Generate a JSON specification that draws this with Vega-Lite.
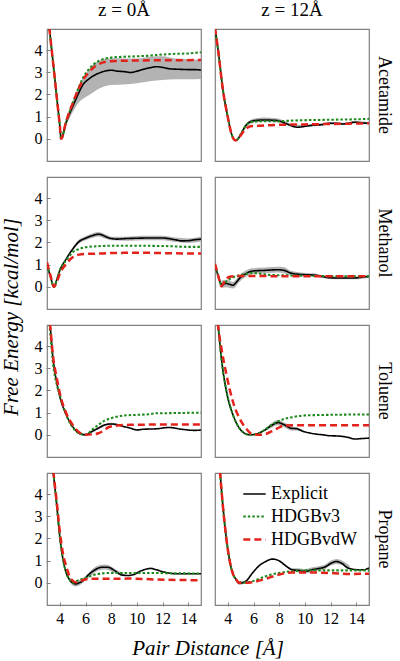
{
"$schema": "https://vega.github.io/schema/vega-lite/v6.json",
"background": "white",
"padding": {"left": 0, "top": 1, "right": 0, "bottom": 4},
"datasets": {
"pts": [
{"m":"Acetamide","z":"z = 0Å","s":"Explicit","x":3.0,"y":6.0},{"m":"Acetamide","z":"z = 0Å","s":"Explicit","x":3.2,"y":4.9},{"m":"Acetamide","z":"z = 0Å","s":"Explicit","x":3.5,"y":3.3},{"m":"Acetamide","z":"z = 0Å","s":"Explicit","x":3.8,"y":1.66},{"m":"Acetamide","z":"z = 0Å","s":"Explicit","x":4.0,"y":0.58},{"m":"Acetamide","z":"z = 0Å","s":"Explicit","x":4.1,"y":0.0},{"m":"Acetamide","z":"z = 0Å","s":"Explicit","x":4.5,"y":0.75},{"m":"Acetamide","z":"z = 0Å","s":"Explicit","x":5.0,"y":1.45},{"m":"Acetamide","z":"z = 0Å","s":"Explicit","x":5.5,"y":2.1},{"m":"Acetamide","z":"z = 0Å","s":"Explicit","x":5.75,"y":2.39},{"m":"Acetamide","z":"z = 0Å","s":"Explicit","x":6.25,"y":2.69},{"m":"Acetamide","z":"z = 0Å","s":"Explicit","x":7.0,"y":2.95},{"m":"Acetamide","z":"z = 0Å","s":"Explicit","x":7.5,"y":3.05},{"m":"Acetamide","z":"z = 0Å","s":"Explicit","x":8.0,"y":3.09},{"m":"Acetamide","z":"z = 0Å","s":"Explicit","x":8.5,"y":3.05},{"m":"Acetamide","z":"z = 0Å","s":"Explicit","x":9.0,"y":3.03},{"m":"Acetamide","z":"z = 0Å","s":"Explicit","x":9.5,"y":2.99},{"m":"Acetamide","z":"z = 0Å","s":"Explicit","x":10.0,"y":3.05},{"m":"Acetamide","z":"z = 0Å","s":"Explicit","x":10.5,"y":3.13},{"m":"Acetamide","z":"z = 0Å","s":"Explicit","x":11.0,"y":3.2},{"m":"Acetamide","z":"z = 0Å","s":"Explicit","x":11.5,"y":3.25},{"m":"Acetamide","z":"z = 0Å","s":"Explicit","x":12.0,"y":3.22},{"m":"Acetamide","z":"z = 0Å","s":"Explicit","x":12.5,"y":3.16},{"m":"Acetamide","z":"z = 0Å","s":"Explicit","x":13.0,"y":3.14},{"m":"Acetamide","z":"z = 0Å","s":"Explicit","x":13.5,"y":3.13},{"m":"Acetamide","z":"z = 0Å","s":"Explicit","x":14.0,"y":3.12},{"m":"Acetamide","z":"z = 0Å","s":"Explicit","x":14.5,"y":3.12},{"m":"Acetamide","z":"z = 0Å","s":"Explicit","x":15.0,"y":3.1},
{"m":"Acetamide","z":"z = 0Å","s":"HDGBv3","x":3.0,"y":6.0},{"m":"Acetamide","z":"z = 0Å","s":"HDGBv3","x":3.2,"y":4.9},{"m":"Acetamide","z":"z = 0Å","s":"HDGBv3","x":3.5,"y":3.3},{"m":"Acetamide","z":"z = 0Å","s":"HDGBv3","x":3.8,"y":1.66},{"m":"Acetamide","z":"z = 0Å","s":"HDGBv3","x":4.0,"y":0.58},{"m":"Acetamide","z":"z = 0Å","s":"HDGBv3","x":4.1,"y":0.0},{"m":"Acetamide","z":"z = 0Å","s":"HDGBv3","x":4.5,"y":0.8},{"m":"Acetamide","z":"z = 0Å","s":"HDGBv3","x":5.0,"y":1.6},{"m":"Acetamide","z":"z = 0Å","s":"HDGBv3","x":5.5,"y":2.35},{"m":"Acetamide","z":"z = 0Å","s":"HDGBv3","x":5.75,"y":2.69},{"m":"Acetamide","z":"z = 0Å","s":"HDGBv3","x":6.25,"y":3.13},{"m":"Acetamide","z":"z = 0Å","s":"HDGBv3","x":7.0,"y":3.5},{"m":"Acetamide","z":"z = 0Å","s":"HDGBv3","x":8.0,"y":3.66},{"m":"Acetamide","z":"z = 0Å","s":"HDGBv3","x":9.0,"y":3.7},{"m":"Acetamide","z":"z = 0Å","s":"HDGBv3","x":10.0,"y":3.72},{"m":"Acetamide","z":"z = 0Å","s":"HDGBv3","x":11.0,"y":3.75},{"m":"Acetamide","z":"z = 0Å","s":"HDGBv3","x":12.0,"y":3.8},{"m":"Acetamide","z":"z = 0Å","s":"HDGBv3","x":13.0,"y":3.83},{"m":"Acetamide","z":"z = 0Å","s":"HDGBv3","x":14.0,"y":3.85},{"m":"Acetamide","z":"z = 0Å","s":"HDGBv3","x":15.0,"y":3.9},
{"m":"Acetamide","z":"z = 0Å","s":"HDGBvdW","x":3.0,"y":6.0},{"m":"Acetamide","z":"z = 0Å","s":"HDGBvdW","x":3.2,"y":4.9},{"m":"Acetamide","z":"z = 0Å","s":"HDGBvdW","x":3.5,"y":3.3},{"m":"Acetamide","z":"z = 0Å","s":"HDGBvdW","x":3.8,"y":1.66},{"m":"Acetamide","z":"z = 0Å","s":"HDGBvdW","x":4.0,"y":0.58},{"m":"Acetamide","z":"z = 0Å","s":"HDGBvdW","x":4.1,"y":0.0},{"m":"Acetamide","z":"z = 0Å","s":"HDGBvdW","x":4.5,"y":0.8},{"m":"Acetamide","z":"z = 0Å","s":"HDGBvdW","x":5.0,"y":1.6},{"m":"Acetamide","z":"z = 0Å","s":"HDGBvdW","x":5.5,"y":2.3},{"m":"Acetamide","z":"z = 0Å","s":"HDGBvdW","x":5.75,"y":2.6},{"m":"Acetamide","z":"z = 0Å","s":"HDGBvdW","x":6.25,"y":2.99},{"m":"Acetamide","z":"z = 0Å","s":"HDGBvdW","x":7.0,"y":3.36},{"m":"Acetamide","z":"z = 0Å","s":"HDGBvdW","x":8.0,"y":3.5},{"m":"Acetamide","z":"z = 0Å","s":"HDGBvdW","x":9.0,"y":3.52},{"m":"Acetamide","z":"z = 0Å","s":"HDGBvdW","x":10.0,"y":3.53},{"m":"Acetamide","z":"z = 0Å","s":"HDGBvdW","x":12.0,"y":3.54},{"m":"Acetamide","z":"z = 0Å","s":"HDGBvdW","x":15.0,"y":3.55},
{"m":"Acetamide","z":"z = 0Å","s":"band","x":4.1,"lo":0.0,"hi":0.0},{"m":"Acetamide","z":"z = 0Å","s":"band","x":4.5,"lo":0.6,"hi":0.9},{"m":"Acetamide","z":"z = 0Å","s":"band","x":5.0,"lo":1.2,"hi":1.7},{"m":"Acetamide","z":"z = 0Å","s":"band","x":5.5,"lo":1.65,"hi":2.45},{"m":"Acetamide","z":"z = 0Å","s":"band","x":6.0,"lo":1.87,"hi":2.9},{"m":"Acetamide","z":"z = 0Å","s":"band","x":6.5,"lo":2.05,"hi":3.3},{"m":"Acetamide","z":"z = 0Å","s":"band","x":7.0,"lo":2.24,"hi":3.5},{"m":"Acetamide","z":"z = 0Å","s":"band","x":8.0,"lo":2.43,"hi":3.63},{"m":"Acetamide","z":"z = 0Å","s":"band","x":9.0,"lo":2.45,"hi":3.62},{"m":"Acetamide","z":"z = 0Å","s":"band","x":10.0,"lo":2.5,"hi":3.62},{"m":"Acetamide","z":"z = 0Å","s":"band","x":11.0,"lo":2.6,"hi":3.7},{"m":"Acetamide","z":"z = 0Å","s":"band","x":12.0,"lo":2.65,"hi":3.72},{"m":"Acetamide","z":"z = 0Å","s":"band","x":13.0,"lo":2.68,"hi":3.62},{"m":"Acetamide","z":"z = 0Å","s":"band","x":14.0,"lo":2.68,"hi":3.6},{"m":"Acetamide","z":"z = 0Å","s":"band","x":15.0,"lo":2.7,"hi":3.55},

{"m":"Acetamide","z":"z = 12Å","s":"Explicit","x":3.0,"y":5.0},{"m":"Acetamide","z":"z = 12Å","s":"Explicit","x":3.25,"y":3.96},{"m":"Acetamide","z":"z = 12Å","s":"Explicit","x":3.63,"y":2.16},{"m":"Acetamide","z":"z = 12Å","s":"Explicit","x":4.0,"y":0.97},{"m":"Acetamide","z":"z = 12Å","s":"Explicit","x":4.25,"y":0.3},{"m":"Acetamide","z":"z = 12Å","s":"Explicit","x":4.45,"y":0.0},{"m":"Acetamide","z":"z = 12Å","s":"Explicit","x":4.6,"y":-0.07},{"m":"Acetamide","z":"z = 12Å","s":"Explicit","x":4.8,"y":0.0},{"m":"Acetamide","z":"z = 12Å","s":"Explicit","x":5.0,"y":0.2},{"m":"Acetamide","z":"z = 12Å","s":"Explicit","x":5.4,"y":0.6},{"m":"Acetamide","z":"z = 12Å","s":"Explicit","x":5.9,"y":0.8},{"m":"Acetamide","z":"z = 12Å","s":"Explicit","x":6.4,"y":0.84},{"m":"Acetamide","z":"z = 12Å","s":"Explicit","x":6.9,"y":0.85},{"m":"Acetamide","z":"z = 12Å","s":"Explicit","x":7.4,"y":0.84},{"m":"Acetamide","z":"z = 12Å","s":"Explicit","x":7.9,"y":0.82},{"m":"Acetamide","z":"z = 12Å","s":"Explicit","x":8.4,"y":0.72},{"m":"Acetamide","z":"z = 12Å","s":"Explicit","x":8.9,"y":0.6},{"m":"Acetamide","z":"z = 12Å","s":"Explicit","x":9.4,"y":0.52},{"m":"Acetamide","z":"z = 12Å","s":"Explicit","x":9.9,"y":0.55},{"m":"Acetamide","z":"z = 12Å","s":"Explicit","x":10.4,"y":0.6},{"m":"Acetamide","z":"z = 12Å","s":"Explicit","x":10.9,"y":0.62},{"m":"Acetamide","z":"z = 12Å","s":"Explicit","x":11.4,"y":0.64},{"m":"Acetamide","z":"z = 12Å","s":"Explicit","x":11.9,"y":0.7},{"m":"Acetamide","z":"z = 12Å","s":"Explicit","x":12.4,"y":0.7},{"m":"Acetamide","z":"z = 12Å","s":"Explicit","x":12.9,"y":0.67},{"m":"Acetamide","z":"z = 12Å","s":"Explicit","x":13.4,"y":0.7},{"m":"Acetamide","z":"z = 12Å","s":"Explicit","x":13.9,"y":0.75},{"m":"Acetamide","z":"z = 12Å","s":"Explicit","x":14.4,"y":0.72},{"m":"Acetamide","z":"z = 12Å","s":"Explicit","x":15.0,"y":0.7},
{"m":"Acetamide","z":"z = 12Å","s":"HDGBv3","x":3.0,"y":5.0},{"m":"Acetamide","z":"z = 12Å","s":"HDGBv3","x":3.25,"y":3.96},{"m":"Acetamide","z":"z = 12Å","s":"HDGBv3","x":3.63,"y":2.16},{"m":"Acetamide","z":"z = 12Å","s":"HDGBv3","x":4.0,"y":0.97},{"m":"Acetamide","z":"z = 12Å","s":"HDGBv3","x":4.25,"y":0.3},{"m":"Acetamide","z":"z = 12Å","s":"HDGBv3","x":4.45,"y":0.0},{"m":"Acetamide","z":"z = 12Å","s":"HDGBv3","x":4.6,"y":-0.07},{"m":"Acetamide","z":"z = 12Å","s":"HDGBv3","x":4.8,"y":0.0},{"m":"Acetamide","z":"z = 12Å","s":"HDGBv3","x":5.0,"y":0.2},{"m":"Acetamide","z":"z = 12Å","s":"HDGBv3","x":5.4,"y":0.6},{"m":"Acetamide","z":"z = 12Å","s":"HDGBv3","x":5.9,"y":0.77},{"m":"Acetamide","z":"z = 12Å","s":"HDGBv3","x":6.9,"y":0.79},{"m":"Acetamide","z":"z = 12Å","s":"HDGBv3","x":7.9,"y":0.79},{"m":"Acetamide","z":"z = 12Å","s":"HDGBv3","x":8.9,"y":0.82},{"m":"Acetamide","z":"z = 12Å","s":"HDGBv3","x":10.0,"y":0.84},{"m":"Acetamide","z":"z = 12Å","s":"HDGBv3","x":11.0,"y":0.85},{"m":"Acetamide","z":"z = 12Å","s":"HDGBv3","x":12.0,"y":0.86},{"m":"Acetamide","z":"z = 12Å","s":"HDGBv3","x":13.0,"y":0.87},{"m":"Acetamide","z":"z = 12Å","s":"HDGBv3","x":14.0,"y":0.88},{"m":"Acetamide","z":"z = 12Å","s":"HDGBv3","x":15.0,"y":0.9},
{"m":"Acetamide","z":"z = 12Å","s":"HDGBvdW","x":3.0,"y":5.0},{"m":"Acetamide","z":"z = 12Å","s":"HDGBvdW","x":3.25,"y":3.96},{"m":"Acetamide","z":"z = 12Å","s":"HDGBvdW","x":3.63,"y":2.16},{"m":"Acetamide","z":"z = 12Å","s":"HDGBvdW","x":4.0,"y":0.97},{"m":"Acetamide","z":"z = 12Å","s":"HDGBvdW","x":4.25,"y":0.3},{"m":"Acetamide","z":"z = 12Å","s":"HDGBvdW","x":4.45,"y":0.0},{"m":"Acetamide","z":"z = 12Å","s":"HDGBvdW","x":4.6,"y":-0.07},{"m":"Acetamide","z":"z = 12Å","s":"HDGBvdW","x":4.8,"y":-0.02},{"m":"Acetamide","z":"z = 12Å","s":"HDGBvdW","x":5.0,"y":0.15},{"m":"Acetamide","z":"z = 12Å","s":"HDGBvdW","x":5.4,"y":0.45},{"m":"Acetamide","z":"z = 12Å","s":"HDGBvdW","x":5.9,"y":0.58},{"m":"Acetamide","z":"z = 12Å","s":"HDGBvdW","x":6.9,"y":0.6},{"m":"Acetamide","z":"z = 12Å","s":"HDGBvdW","x":7.9,"y":0.63},{"m":"Acetamide","z":"z = 12Å","s":"HDGBvdW","x":8.9,"y":0.64},{"m":"Acetamide","z":"z = 12Å","s":"HDGBvdW","x":10.0,"y":0.65},{"m":"Acetamide","z":"z = 12Å","s":"HDGBvdW","x":11.0,"y":0.66},{"m":"Acetamide","z":"z = 12Å","s":"HDGBvdW","x":12.0,"y":0.67},{"m":"Acetamide","z":"z = 12Å","s":"HDGBvdW","x":13.0,"y":0.68},{"m":"Acetamide","z":"z = 12Å","s":"HDGBvdW","x":14.0,"y":0.69},{"m":"Acetamide","z":"z = 12Å","s":"HDGBvdW","x":15.0,"y":0.7},
{"m":"Acetamide","z":"z = 12Å","s":"band","x":4.6,"lo":-0.09,"hi":-0.05},{"m":"Acetamide","z":"z = 12Å","s":"band","x":5.0,"lo":0.15,"hi":0.25},{"m":"Acetamide","z":"z = 12Å","s":"band","x":5.5,"lo":0.55,"hi":0.72},{"m":"Acetamide","z":"z = 12Å","s":"band","x":6.0,"lo":0.72,"hi":0.9},{"m":"Acetamide","z":"z = 12Å","s":"band","x":6.5,"lo":0.76,"hi":0.95},{"m":"Acetamide","z":"z = 12Å","s":"band","x":7.0,"lo":0.77,"hi":0.96},{"m":"Acetamide","z":"z = 12Å","s":"band","x":7.5,"lo":0.76,"hi":0.94},{"m":"Acetamide","z":"z = 12Å","s":"band","x":8.0,"lo":0.74,"hi":0.9},{"m":"Acetamide","z":"z = 12Å","s":"band","x":8.5,"lo":0.65,"hi":0.78},{"m":"Acetamide","z":"z = 12Å","s":"band","x":9.0,"lo":0.55,"hi":0.66},{"m":"Acetamide","z":"z = 12Å","s":"band","x":10.0,"lo":0.53,"hi":0.63},{"m":"Acetamide","z":"z = 12Å","s":"band","x":11.0,"lo":0.58,"hi":0.68},{"m":"Acetamide","z":"z = 12Å","s":"band","x":12.0,"lo":0.65,"hi":0.75},{"m":"Acetamide","z":"z = 12Å","s":"band","x":13.0,"lo":0.62,"hi":0.72},{"m":"Acetamide","z":"z = 12Å","s":"band","x":14.0,"lo":0.7,"hi":0.8},{"m":"Acetamide","z":"z = 12Å","s":"band","x":15.0,"lo":0.66,"hi":0.74},

{"m":"Methanol","z":"z = 0Å","s":"Explicit","x":3.0,"y":1.0},{"m":"Methanol","z":"z = 0Å","s":"Explicit","x":3.25,"y":0.5},{"m":"Methanol","z":"z = 0Å","s":"Explicit","x":3.55,"y":0.0},{"m":"Methanol","z":"z = 0Å","s":"Explicit","x":3.75,"y":0.3},{"m":"Methanol","z":"z = 0Å","s":"Explicit","x":4.0,"y":0.74},{"m":"Methanol","z":"z = 0Å","s":"Explicit","x":4.5,"y":1.26},{"m":"Methanol","z":"z = 0Å","s":"Explicit","x":5.0,"y":1.7},{"m":"Methanol","z":"z = 0Å","s":"Explicit","x":5.5,"y":2.04},{"m":"Methanol","z":"z = 0Å","s":"Explicit","x":6.0,"y":2.19},{"m":"Methanol","z":"z = 0Å","s":"Explicit","x":6.5,"y":2.3},{"m":"Methanol","z":"z = 0Å","s":"Explicit","x":7.0,"y":2.37},{"m":"Methanol","z":"z = 0Å","s":"Explicit","x":7.25,"y":2.35},{"m":"Methanol","z":"z = 0Å","s":"Explicit","x":7.5,"y":2.28},{"m":"Methanol","z":"z = 0Å","s":"Explicit","x":8.0,"y":2.18},{"m":"Methanol","z":"z = 0Å","s":"Explicit","x":8.5,"y":2.15},{"m":"Methanol","z":"z = 0Å","s":"Explicit","x":9.0,"y":2.17},{"m":"Methanol","z":"z = 0Å","s":"Explicit","x":10.0,"y":2.19},{"m":"Methanol","z":"z = 0Å","s":"Explicit","x":11.0,"y":2.2},{"m":"Methanol","z":"z = 0Å","s":"Explicit","x":12.0,"y":2.2},{"m":"Methanol","z":"z = 0Å","s":"Explicit","x":13.0,"y":2.12},{"m":"Methanol","z":"z = 0Å","s":"Explicit","x":13.5,"y":2.07},{"m":"Methanol","z":"z = 0Å","s":"Explicit","x":14.0,"y":2.08},{"m":"Methanol","z":"z = 0Å","s":"Explicit","x":14.5,"y":2.12},{"m":"Methanol","z":"z = 0Å","s":"Explicit","x":15.0,"y":2.15},
{"m":"Methanol","z":"z = 0Å","s":"HDGBv3","x":3.0,"y":1.0},{"m":"Methanol","z":"z = 0Å","s":"HDGBv3","x":3.25,"y":0.5},{"m":"Methanol","z":"z = 0Å","s":"HDGBv3","x":3.55,"y":0.0},{"m":"Methanol","z":"z = 0Å","s":"HDGBv3","x":3.75,"y":0.3},{"m":"Methanol","z":"z = 0Å","s":"HDGBv3","x":4.0,"y":0.74},{"m":"Methanol","z":"z = 0Å","s":"HDGBv3","x":4.5,"y":1.2},{"m":"Methanol","z":"z = 0Å","s":"HDGBv3","x":5.0,"y":1.56},{"m":"Methanol","z":"z = 0Å","s":"HDGBv3","x":5.5,"y":1.7},{"m":"Methanol","z":"z = 0Å","s":"HDGBv3","x":6.0,"y":1.78},{"m":"Methanol","z":"z = 0Å","s":"HDGBv3","x":7.0,"y":1.83},{"m":"Methanol","z":"z = 0Å","s":"HDGBv3","x":8.0,"y":1.85},{"m":"Methanol","z":"z = 0Å","s":"HDGBv3","x":10.0,"y":1.85},{"m":"Methanol","z":"z = 0Å","s":"HDGBv3","x":12.0,"y":1.84},{"m":"Methanol","z":"z = 0Å","s":"HDGBv3","x":13.0,"y":1.82},{"m":"Methanol","z":"z = 0Å","s":"HDGBv3","x":14.0,"y":1.8},{"m":"Methanol","z":"z = 0Å","s":"HDGBv3","x":15.0,"y":1.8},
{"m":"Methanol","z":"z = 0Å","s":"HDGBvdW","x":3.0,"y":1.1},{"m":"Methanol","z":"z = 0Å","s":"HDGBvdW","x":3.25,"y":0.55},{"m":"Methanol","z":"z = 0Å","s":"HDGBvdW","x":3.55,"y":0.0},{"m":"Methanol","z":"z = 0Å","s":"HDGBvdW","x":3.75,"y":0.2},{"m":"Methanol","z":"z = 0Å","s":"HDGBvdW","x":4.0,"y":0.59},{"m":"Methanol","z":"z = 0Å","s":"HDGBvdW","x":4.5,"y":1.04},{"m":"Methanol","z":"z = 0Å","s":"HDGBvdW","x":5.0,"y":1.33},{"m":"Methanol","z":"z = 0Å","s":"HDGBvdW","x":5.5,"y":1.45},{"m":"Methanol","z":"z = 0Å","s":"HDGBvdW","x":6.0,"y":1.48},{"m":"Methanol","z":"z = 0Å","s":"HDGBvdW","x":7.0,"y":1.5},{"m":"Methanol","z":"z = 0Å","s":"HDGBvdW","x":8.0,"y":1.52},{"m":"Methanol","z":"z = 0Å","s":"HDGBvdW","x":9.0,"y":1.53},{"m":"Methanol","z":"z = 0Å","s":"HDGBvdW","x":11.0,"y":1.53},{"m":"Methanol","z":"z = 0Å","s":"HDGBvdW","x":12.0,"y":1.52},{"m":"Methanol","z":"z = 0Å","s":"HDGBvdW","x":13.0,"y":1.51},{"m":"Methanol","z":"z = 0Å","s":"HDGBvdW","x":15.0,"y":1.5},
{"m":"Methanol","z":"z = 0Å","s":"band","x":5.0,"lo":1.62,"hi":1.78},{"m":"Methanol","z":"z = 0Å","s":"band","x":5.5,"lo":1.95,"hi":2.13},{"m":"Methanol","z":"z = 0Å","s":"band","x":6.0,"lo":2.1,"hi":2.28},{"m":"Methanol","z":"z = 0Å","s":"band","x":6.5,"lo":2.2,"hi":2.4},{"m":"Methanol","z":"z = 0Å","s":"band","x":7.0,"lo":2.27,"hi":2.47},{"m":"Methanol","z":"z = 0Å","s":"band","x":7.5,"lo":2.18,"hi":2.38},{"m":"Methanol","z":"z = 0Å","s":"band","x":8.0,"lo":2.1,"hi":2.26},{"m":"Methanol","z":"z = 0Å","s":"band","x":9.0,"lo":2.08,"hi":2.26},{"m":"Methanol","z":"z = 0Å","s":"band","x":10.0,"lo":2.09,"hi":2.29},{"m":"Methanol","z":"z = 0Å","s":"band","x":11.0,"lo":2.1,"hi":2.3},{"m":"Methanol","z":"z = 0Å","s":"band","x":12.0,"lo":2.1,"hi":2.3},{"m":"Methanol","z":"z = 0Å","s":"band","x":13.0,"lo":2.02,"hi":2.22},{"m":"Methanol","z":"z = 0Å","s":"band","x":14.0,"lo":1.98,"hi":2.18},{"m":"Methanol","z":"z = 0Å","s":"band","x":15.0,"lo":2.03,"hi":2.27},

{"m":"Methanol","z":"z = 12Å","s":"Explicit","x":3.0,"y":0.95},{"m":"Methanol","z":"z = 12Å","s":"Explicit","x":3.25,"y":0.5},{"m":"Methanol","z":"z = 12Å","s":"Explicit","x":3.5,"y":0.12},{"m":"Methanol","z":"z = 12Å","s":"Explicit","x":3.9,"y":0.15},{"m":"Methanol","z":"z = 12Å","s":"Explicit","x":4.2,"y":0.1},{"m":"Methanol","z":"z = 12Å","s":"Explicit","x":4.4,"y":0.07},{"m":"Methanol","z":"z = 12Å","s":"Explicit","x":4.65,"y":0.2},{"m":"Methanol","z":"z = 12Å","s":"Explicit","x":4.9,"y":0.37},{"m":"Methanol","z":"z = 12Å","s":"Explicit","x":5.4,"y":0.59},{"m":"Methanol","z":"z = 12Å","s":"Explicit","x":5.9,"y":0.71},{"m":"Methanol","z":"z = 12Å","s":"Explicit","x":6.4,"y":0.73},{"m":"Methanol","z":"z = 12Å","s":"Explicit","x":6.9,"y":0.74},{"m":"Methanol","z":"z = 12Å","s":"Explicit","x":7.4,"y":0.76},{"m":"Methanol","z":"z = 12Å","s":"Explicit","x":7.9,"y":0.77},{"m":"Methanol","z":"z = 12Å","s":"Explicit","x":8.4,"y":0.74},{"m":"Methanol","z":"z = 12Å","s":"Explicit","x":8.9,"y":0.62},{"m":"Methanol","z":"z = 12Å","s":"Explicit","x":9.4,"y":0.57},{"m":"Methanol","z":"z = 12Å","s":"Explicit","x":9.9,"y":0.55},{"m":"Methanol","z":"z = 12Å","s":"Explicit","x":10.4,"y":0.54},{"m":"Methanol","z":"z = 12Å","s":"Explicit","x":10.9,"y":0.52},{"m":"Methanol","z":"z = 12Å","s":"Explicit","x":11.4,"y":0.46},{"m":"Methanol","z":"z = 12Å","s":"Explicit","x":11.9,"y":0.41},{"m":"Methanol","z":"z = 12Å","s":"Explicit","x":12.4,"y":0.4},{"m":"Methanol","z":"z = 12Å","s":"Explicit","x":12.9,"y":0.4},{"m":"Methanol","z":"z = 12Å","s":"Explicit","x":13.4,"y":0.4},{"m":"Methanol","z":"z = 12Å","s":"Explicit","x":13.9,"y":0.4},{"m":"Methanol","z":"z = 12Å","s":"Explicit","x":14.4,"y":0.43},{"m":"Methanol","z":"z = 12Å","s":"Explicit","x":15.0,"y":0.47},
{"m":"Methanol","z":"z = 12Å","s":"HDGBv3","x":3.0,"y":1.0},{"m":"Methanol","z":"z = 12Å","s":"HDGBv3","x":3.25,"y":0.5},{"m":"Methanol","z":"z = 12Å","s":"HDGBv3","x":3.5,"y":0.05},{"m":"Methanol","z":"z = 12Å","s":"HDGBv3","x":3.8,"y":0.2},{"m":"Methanol","z":"z = 12Å","s":"HDGBv3","x":4.3,"y":0.4},{"m":"Methanol","z":"z = 12Å","s":"HDGBv3","x":4.9,"y":0.52},{"m":"Methanol","z":"z = 12Å","s":"HDGBv3","x":5.4,"y":0.58},{"m":"Methanol","z":"z = 12Å","s":"HDGBv3","x":5.9,"y":0.62},{"m":"Methanol","z":"z = 12Å","s":"HDGBv3","x":6.4,"y":0.6},{"m":"Methanol","z":"z = 12Å","s":"HDGBv3","x":6.9,"y":0.56},{"m":"Methanol","z":"z = 12Å","s":"HDGBv3","x":7.5,"y":0.53},{"m":"Methanol","z":"z = 12Å","s":"HDGBv3","x":8.5,"y":0.52},{"m":"Methanol","z":"z = 12Å","s":"HDGBv3","x":10.0,"y":0.5},{"m":"Methanol","z":"z = 12Å","s":"HDGBv3","x":12.0,"y":0.48},{"m":"Methanol","z":"z = 12Å","s":"HDGBv3","x":14.0,"y":0.47},{"m":"Methanol","z":"z = 12Å","s":"HDGBv3","x":15.0,"y":0.47},
{"m":"Methanol","z":"z = 12Å","s":"HDGBvdW","x":3.0,"y":1.04},{"m":"Methanol","z":"z = 12Å","s":"HDGBvdW","x":3.25,"y":0.5},{"m":"Methanol","z":"z = 12Å","s":"HDGBvdW","x":3.5,"y":0.03},{"m":"Methanol","z":"z = 12Å","s":"HDGBvdW","x":3.8,"y":0.3},{"m":"Methanol","z":"z = 12Å","s":"HDGBvdW","x":4.1,"y":0.44},{"m":"Methanol","z":"z = 12Å","s":"HDGBvdW","x":4.5,"y":0.48},{"m":"Methanol","z":"z = 12Å","s":"HDGBvdW","x":5.0,"y":0.49},{"m":"Methanol","z":"z = 12Å","s":"HDGBvdW","x":8.0,"y":0.48},{"m":"Methanol","z":"z = 12Å","s":"HDGBvdW","x":15.0,"y":0.48},
{"m":"Methanol","z":"z = 12Å","s":"band","x":3.5,"lo":-0.05,"hi":0.28},{"m":"Methanol","z":"z = 12Å","s":"band","x":3.9,"lo":-0.02,"hi":0.32},{"m":"Methanol","z":"z = 12Å","s":"band","x":4.4,"lo":-0.08,"hi":0.22},{"m":"Methanol","z":"z = 12Å","s":"band","x":4.9,"lo":0.22,"hi":0.52},{"m":"Methanol","z":"z = 12Å","s":"band","x":5.4,"lo":0.45,"hi":0.73},{"m":"Methanol","z":"z = 12Å","s":"band","x":5.9,"lo":0.58,"hi":0.84},{"m":"Methanol","z":"z = 12Å","s":"band","x":6.9,"lo":0.61,"hi":0.87},{"m":"Methanol","z":"z = 12Å","s":"band","x":7.9,"lo":0.64,"hi":0.9},{"m":"Methanol","z":"z = 12Å","s":"band","x":8.4,"lo":0.6,"hi":0.88},{"m":"Methanol","z":"z = 12Å","s":"band","x":8.9,"lo":0.52,"hi":0.72},{"m":"Methanol","z":"z = 12Å","s":"band","x":9.9,"lo":0.47,"hi":0.63},{"m":"Methanol","z":"z = 12Å","s":"band","x":10.9,"lo":0.45,"hi":0.59},{"m":"Methanol","z":"z = 12Å","s":"band","x":11.9,"lo":0.35,"hi":0.47},{"m":"Methanol","z":"z = 12Å","s":"band","x":12.9,"lo":0.34,"hi":0.46},{"m":"Methanol","z":"z = 12Å","s":"band","x":13.9,"lo":0.34,"hi":0.46},{"m":"Methanol","z":"z = 12Å","s":"band","x":15.0,"lo":0.41,"hi":0.53},

{"m":"Toluene","z":"z = 0Å","s":"Explicit","x":3.0,"y":6.5},{"m":"Toluene","z":"z = 0Å","s":"Explicit","x":3.25,"y":4.9},{"m":"Toluene","z":"z = 0Å","s":"Explicit","x":3.5,"y":3.28},{"m":"Toluene","z":"z = 0Å","s":"Explicit","x":3.75,"y":2.39},{"m":"Toluene","z":"z = 0Å","s":"Explicit","x":4.0,"y":1.72},{"m":"Toluene","z":"z = 0Å","s":"Explicit","x":4.5,"y":0.9},{"m":"Toluene","z":"z = 0Å","s":"Explicit","x":5.0,"y":0.37},{"m":"Toluene","z":"z = 0Å","s":"Explicit","x":5.5,"y":0.07},{"m":"Toluene","z":"z = 0Å","s":"Explicit","x":6.0,"y":0.0},{"m":"Toluene","z":"z = 0Å","s":"Explicit","x":6.5,"y":0.15},{"m":"Toluene","z":"z = 0Å","s":"Explicit","x":7.0,"y":0.3},{"m":"Toluene","z":"z = 0Å","s":"Explicit","x":7.5,"y":0.45},{"m":"Toluene","z":"z = 0Å","s":"Explicit","x":8.0,"y":0.49},{"m":"Toluene","z":"z = 0Å","s":"Explicit","x":8.5,"y":0.45},{"m":"Toluene","z":"z = 0Å","s":"Explicit","x":9.0,"y":0.37},{"m":"Toluene","z":"z = 0Å","s":"Explicit","x":9.5,"y":0.3},{"m":"Toluene","z":"z = 0Å","s":"Explicit","x":10.0,"y":0.22},{"m":"Toluene","z":"z = 0Å","s":"Explicit","x":10.5,"y":0.25},{"m":"Toluene","z":"z = 0Å","s":"Explicit","x":11.5,"y":0.27},{"m":"Toluene","z":"z = 0Å","s":"Explicit","x":12.5,"y":0.33},{"m":"Toluene","z":"z = 0Å","s":"Explicit","x":13.5,"y":0.25},{"m":"Toluene","z":"z = 0Å","s":"Explicit","x":14.5,"y":0.2},{"m":"Toluene","z":"z = 0Å","s":"Explicit","x":15.0,"y":0.22},
{"m":"Toluene","z":"z = 0Å","s":"HDGBv3","x":3.0,"y":6.0},{"m":"Toluene","z":"z = 0Å","s":"HDGBv3","x":3.25,"y":4.6},{"m":"Toluene","z":"z = 0Å","s":"HDGBv3","x":3.5,"y":3.06},{"m":"Toluene","z":"z = 0Å","s":"HDGBv3","x":3.75,"y":2.3},{"m":"Toluene","z":"z = 0Å","s":"HDGBv3","x":4.0,"y":1.8},{"m":"Toluene","z":"z = 0Å","s":"HDGBv3","x":4.5,"y":0.9},{"m":"Toluene","z":"z = 0Å","s":"HDGBv3","x":5.0,"y":0.33},{"m":"Toluene","z":"z = 0Å","s":"HDGBv3","x":5.5,"y":0.07},{"m":"Toluene","z":"z = 0Å","s":"HDGBv3","x":6.0,"y":0.0},{"m":"Toluene","z":"z = 0Å","s":"HDGBv3","x":6.5,"y":0.22},{"m":"Toluene","z":"z = 0Å","s":"HDGBv3","x":7.0,"y":0.45},{"m":"Toluene","z":"z = 0Å","s":"HDGBv3","x":7.5,"y":0.64},{"m":"Toluene","z":"z = 0Å","s":"HDGBv3","x":8.0,"y":0.75},{"m":"Toluene","z":"z = 0Å","s":"HDGBv3","x":9.0,"y":0.87},{"m":"Toluene","z":"z = 0Å","s":"HDGBv3","x":10.0,"y":0.9},{"m":"Toluene","z":"z = 0Å","s":"HDGBv3","x":11.0,"y":0.93},{"m":"Toluene","z":"z = 0Å","s":"HDGBv3","x":11.5,"y":0.97},{"m":"Toluene","z":"z = 0Å","s":"HDGBv3","x":13.0,"y":0.98},{"m":"Toluene","z":"z = 0Å","s":"HDGBv3","x":15.0,"y":1.0},
{"m":"Toluene","z":"z = 0Å","s":"HDGBvdW","x":3.0,"y":6.5},{"m":"Toluene","z":"z = 0Å","s":"HDGBvdW","x":3.25,"y":4.9},{"m":"Toluene","z":"z = 0Å","s":"HDGBvdW","x":3.5,"y":3.4},{"m":"Toluene","z":"z = 0Å","s":"HDGBvdW","x":3.75,"y":2.6},{"m":"Toluene","z":"z = 0Å","s":"HDGBvdW","x":4.0,"y":1.87},{"m":"Toluene","z":"z = 0Å","s":"HDGBvdW","x":4.5,"y":0.97},{"m":"Toluene","z":"z = 0Å","s":"HDGBvdW","x":5.0,"y":0.45},{"m":"Toluene","z":"z = 0Å","s":"HDGBvdW","x":5.5,"y":0.12},{"m":"Toluene","z":"z = 0Å","s":"HDGBvdW","x":6.0,"y":0.0},{"m":"Toluene","z":"z = 0Å","s":"HDGBvdW","x":6.5,"y":0.02},{"m":"Toluene","z":"z = 0Å","s":"HDGBvdW","x":7.0,"y":0.07},{"m":"Toluene","z":"z = 0Å","s":"HDGBvdW","x":7.5,"y":0.22},{"m":"Toluene","z":"z = 0Å","s":"HDGBvdW","x":7.75,"y":0.33},{"m":"Toluene","z":"z = 0Å","s":"HDGBvdW","x":8.5,"y":0.42},{"m":"Toluene","z":"z = 0Å","s":"HDGBvdW","x":9.5,"y":0.45},{"m":"Toluene","z":"z = 0Å","s":"HDGBvdW","x":11.0,"y":0.46},{"m":"Toluene","z":"z = 0Å","s":"HDGBvdW","x":13.0,"y":0.47},{"m":"Toluene","z":"z = 0Å","s":"HDGBvdW","x":15.0,"y":0.47},
{"m":"Toluene","z":"z = 0Å","s":"band","x":5.5,"lo":0.0,"hi":0.14},{"m":"Toluene","z":"z = 0Å","s":"band","x":6.0,"lo":-0.06,"hi":0.06},{"m":"Toluene","z":"z = 0Å","s":"band","x":6.5,"lo":0.09,"hi":0.21},{"m":"Toluene","z":"z = 0Å","s":"band","x":7.0,"lo":0.25,"hi":0.35},{"m":"Toluene","z":"z = 0Å","s":"band","x":8.0,"lo":0.44,"hi":0.54},{"m":"Toluene","z":"z = 0Å","s":"band","x":9.0,"lo":0.33,"hi":0.41},

{"m":"Toluene","z":"z = 12Å","s":"Explicit","x":3.0,"y":6.5},{"m":"Toluene","z":"z = 12Å","s":"Explicit","x":3.25,"y":4.9},{"m":"Toluene","z":"z = 12Å","s":"Explicit","x":3.5,"y":3.43},{"m":"Toluene","z":"z = 12Å","s":"Explicit","x":3.9,"y":1.94},{"m":"Toluene","z":"z = 12Å","s":"Explicit","x":4.4,"y":0.9},{"m":"Toluene","z":"z = 12Å","s":"Explicit","x":4.9,"y":0.3},{"m":"Toluene","z":"z = 12Å","s":"Explicit","x":5.4,"y":0.04},{"m":"Toluene","z":"z = 12Å","s":"Explicit","x":5.75,"y":0.0},{"m":"Toluene","z":"z = 12Å","s":"Explicit","x":6.4,"y":0.07},{"m":"Toluene","z":"z = 12Å","s":"Explicit","x":6.9,"y":0.22},{"m":"Toluene","z":"z = 12Å","s":"Explicit","x":7.4,"y":0.42},{"m":"Toluene","z":"z = 12Å","s":"Explicit","x":7.9,"y":0.55},{"m":"Toluene","z":"z = 12Å","s":"Explicit","x":8.4,"y":0.45},{"m":"Toluene","z":"z = 12Å","s":"Explicit","x":8.9,"y":0.3},{"m":"Toluene","z":"z = 12Å","s":"Explicit","x":9.4,"y":0.27},{"m":"Toluene","z":"z = 12Å","s":"Explicit","x":9.9,"y":0.15},{"m":"Toluene","z":"z = 12Å","s":"Explicit","x":10.4,"y":0.08},{"m":"Toluene","z":"z = 12Å","s":"Explicit","x":10.9,"y":0.03},{"m":"Toluene","z":"z = 12Å","s":"Explicit","x":11.4,"y":0.0},{"m":"Toluene","z":"z = 12Å","s":"Explicit","x":11.9,"y":-0.04},{"m":"Toluene","z":"z = 12Å","s":"Explicit","x":12.4,"y":-0.05},{"m":"Toluene","z":"z = 12Å","s":"Explicit","x":12.9,"y":-0.07},{"m":"Toluene","z":"z = 12Å","s":"Explicit","x":13.4,"y":-0.12},{"m":"Toluene","z":"z = 12Å","s":"Explicit","x":13.9,"y":-0.19},{"m":"Toluene","z":"z = 12Å","s":"Explicit","x":14.4,"y":-0.17},{"m":"Toluene","z":"z = 12Å","s":"Explicit","x":15.0,"y":-0.15},
{"m":"Toluene","z":"z = 12Å","s":"HDGBv3","x":3.0,"y":6.5},{"m":"Toluene","z":"z = 12Å","s":"HDGBv3","x":3.25,"y":4.9},{"m":"Toluene","z":"z = 12Å","s":"HDGBv3","x":3.5,"y":3.43},{"m":"Toluene","z":"z = 12Å","s":"HDGBv3","x":3.9,"y":1.94},{"m":"Toluene","z":"z = 12Å","s":"HDGBv3","x":4.4,"y":0.9},{"m":"Toluene","z":"z = 12Å","s":"HDGBv3","x":4.9,"y":0.3},{"m":"Toluene","z":"z = 12Å","s":"HDGBv3","x":5.4,"y":0.04},{"m":"Toluene","z":"z = 12Å","s":"HDGBv3","x":5.75,"y":0.0},{"m":"Toluene","z":"z = 12Å","s":"HDGBv3","x":6.4,"y":0.07},{"m":"Toluene","z":"z = 12Å","s":"HDGBv3","x":6.9,"y":0.24},{"m":"Toluene","z":"z = 12Å","s":"HDGBv3","x":7.4,"y":0.45},{"m":"Toluene","z":"z = 12Å","s":"HDGBv3","x":7.9,"y":0.6},{"m":"Toluene","z":"z = 12Å","s":"HDGBv3","x":8.4,"y":0.72},{"m":"Toluene","z":"z = 12Å","s":"HDGBv3","x":8.9,"y":0.78},{"m":"Toluene","z":"z = 12Å","s":"HDGBv3","x":9.9,"y":0.87},{"m":"Toluene","z":"z = 12Å","s":"HDGBv3","x":10.9,"y":0.89},{"m":"Toluene","z":"z = 12Å","s":"HDGBv3","x":11.9,"y":0.9},{"m":"Toluene","z":"z = 12Å","s":"HDGBv3","x":15.0,"y":0.92},
{"m":"Toluene","z":"z = 12Å","s":"HDGBvdW","x":3.0,"y":6.5},{"m":"Toluene","z":"z = 12Å","s":"HDGBvdW","x":3.25,"y":4.85},{"m":"Toluene","z":"z = 12Å","s":"HDGBvdW","x":3.5,"y":3.9},{"m":"Toluene","z":"z = 12Å","s":"HDGBvdW","x":3.9,"y":2.69},{"m":"Toluene","z":"z = 12Å","s":"HDGBvdW","x":4.4,"y":1.49},{"m":"Toluene","z":"z = 12Å","s":"HDGBvdW","x":4.9,"y":0.75},{"m":"Toluene","z":"z = 12Å","s":"HDGBvdW","x":5.4,"y":0.3},{"m":"Toluene","z":"z = 12Å","s":"HDGBvdW","x":5.9,"y":0.03},{"m":"Toluene","z":"z = 12Å","s":"HDGBvdW","x":6.4,"y":0.0},{"m":"Toluene","z":"z = 12Å","s":"HDGBvdW","x":6.9,"y":0.03},{"m":"Toluene","z":"z = 12Å","s":"HDGBvdW","x":7.4,"y":0.15},{"m":"Toluene","z":"z = 12Å","s":"HDGBvdW","x":7.9,"y":0.3},{"m":"Toluene","z":"z = 12Å","s":"HDGBvdW","x":8.4,"y":0.42},{"m":"Toluene","z":"z = 12Å","s":"HDGBvdW","x":9.0,"y":0.43},{"m":"Toluene","z":"z = 12Å","s":"HDGBvdW","x":15.0,"y":0.43},
{"m":"Toluene","z":"z = 12Å","s":"band","x":6.9,"lo":0.17,"hi":0.27},{"m":"Toluene","z":"z = 12Å","s":"band","x":7.4,"lo":0.32,"hi":0.52},{"m":"Toluene","z":"z = 12Å","s":"band","x":7.9,"lo":0.43,"hi":0.67},{"m":"Toluene","z":"z = 12Å","s":"band","x":8.4,"lo":0.34,"hi":0.56},{"m":"Toluene","z":"z = 12Å","s":"band","x":8.9,"lo":0.2,"hi":0.4},{"m":"Toluene","z":"z = 12Å","s":"band","x":9.4,"lo":0.2,"hi":0.34},{"m":"Toluene","z":"z = 12Å","s":"band","x":9.9,"lo":0.1,"hi":0.2},

{"m":"Propane","z":"z = 0Å","s":"Explicit","x":3.0,"y":9.0},{"m":"Propane","z":"z = 0Å","s":"Explicit","x":3.5,"y":4.96},{"m":"Propane","z":"z = 0Å","s":"Explicit","x":3.75,"y":3.56},{"m":"Propane","z":"z = 0Å","s":"Explicit","x":4.0,"y":2.07},{"m":"Propane","z":"z = 0Å","s":"Explicit","x":4.25,"y":1.04},{"m":"Propane","z":"z = 0Å","s":"Explicit","x":4.5,"y":0.44},{"m":"Propane","z":"z = 0Å","s":"Explicit","x":4.75,"y":0.15},{"m":"Propane","z":"z = 0Å","s":"Explicit","x":5.0,"y":0.0},{"m":"Propane","z":"z = 0Å","s":"Explicit","x":5.25,"y":-0.05},{"m":"Propane","z":"z = 0Å","s":"Explicit","x":5.5,"y":0.0},{"m":"Propane","z":"z = 0Å","s":"Explicit","x":5.75,"y":0.07},{"m":"Propane","z":"z = 0Å","s":"Explicit","x":6.25,"y":0.37},{"m":"Propane","z":"z = 0Å","s":"Explicit","x":6.75,"y":0.59},{"m":"Propane","z":"z = 0Å","s":"Explicit","x":7.25,"y":0.7},{"m":"Propane","z":"z = 0Å","s":"Explicit","x":7.75,"y":0.7},{"m":"Propane","z":"z = 0Å","s":"Explicit","x":8.25,"y":0.56},{"m":"Propane","z":"z = 0Å","s":"Explicit","x":8.75,"y":0.37},{"m":"Propane","z":"z = 0Å","s":"Explicit","x":9.25,"y":0.33},{"m":"Propane","z":"z = 0Å","s":"Explicit","x":9.75,"y":0.37},{"m":"Propane","z":"z = 0Å","s":"Explicit","x":10.25,"y":0.52},{"m":"Propane","z":"z = 0Å","s":"Explicit","x":10.75,"y":0.62},{"m":"Propane","z":"z = 0Å","s":"Explicit","x":11.1,"y":0.65},{"m":"Propane","z":"z = 0Å","s":"Explicit","x":11.5,"y":0.59},{"m":"Propane","z":"z = 0Å","s":"Explicit","x":12.25,"y":0.47},{"m":"Propane","z":"z = 0Å","s":"Explicit","x":13.0,"y":0.41},{"m":"Propane","z":"z = 0Å","s":"Explicit","x":14.0,"y":0.41},{"m":"Propane","z":"z = 0Å","s":"Explicit","x":15.0,"y":0.41},
{"m":"Propane","z":"z = 0Å","s":"HDGBv3","x":3.0,"y":9.0},{"m":"Propane","z":"z = 0Å","s":"HDGBv3","x":3.5,"y":4.96},{"m":"Propane","z":"z = 0Å","s":"HDGBv3","x":3.75,"y":3.56},{"m":"Propane","z":"z = 0Å","s":"HDGBv3","x":4.0,"y":2.07},{"m":"Propane","z":"z = 0Å","s":"HDGBv3","x":4.25,"y":1.04},{"m":"Propane","z":"z = 0Å","s":"HDGBv3","x":4.5,"y":0.44},{"m":"Propane","z":"z = 0Å","s":"HDGBv3","x":4.75,"y":0.15},{"m":"Propane","z":"z = 0Å","s":"HDGBv3","x":5.0,"y":0.0},{"m":"Propane","z":"z = 0Å","s":"HDGBv3","x":5.25,"y":0.07},{"m":"Propane","z":"z = 0Å","s":"HDGBv3","x":6.0,"y":0.22},{"m":"Propane","z":"z = 0Å","s":"HDGBv3","x":6.75,"y":0.37},{"m":"Propane","z":"z = 0Å","s":"HDGBv3","x":7.75,"y":0.44},{"m":"Propane","z":"z = 0Å","s":"HDGBv3","x":9.5,"y":0.44},{"m":"Propane","z":"z = 0Å","s":"HDGBv3","x":11.5,"y":0.44},{"m":"Propane","z":"z = 0Å","s":"HDGBv3","x":13.0,"y":0.43},{"m":"Propane","z":"z = 0Å","s":"HDGBv3","x":15.0,"y":0.42},
{"m":"Propane","z":"z = 0Å","s":"HDGBvdW","x":3.0,"y":9.0},{"m":"Propane","z":"z = 0Å","s":"HDGBvdW","x":3.5,"y":5.0},{"m":"Propane","z":"z = 0Å","s":"HDGBvdW","x":3.75,"y":3.7},{"m":"Propane","z":"z = 0Å","s":"HDGBvdW","x":4.0,"y":2.3},{"m":"Propane","z":"z = 0Å","s":"HDGBvdW","x":4.25,"y":1.3},{"m":"Propane","z":"z = 0Å","s":"HDGBvdW","x":4.5,"y":0.74},{"m":"Propane","z":"z = 0Å","s":"HDGBvdW","x":4.75,"y":0.3},{"m":"Propane","z":"z = 0Å","s":"HDGBvdW","x":5.0,"y":0.1},{"m":"Propane","z":"z = 0Å","s":"HDGBvdW","x":5.25,"y":0.03},{"m":"Propane","z":"z = 0Å","s":"HDGBvdW","x":5.5,"y":0.07},{"m":"Propane","z":"z = 0Å","s":"HDGBvdW","x":6.25,"y":0.18},{"m":"Propane","z":"z = 0Å","s":"HDGBvdW","x":7.5,"y":0.18},{"m":"Propane","z":"z = 0Å","s":"HDGBvdW","x":9.5,"y":0.19},{"m":"Propane","z":"z = 0Å","s":"HDGBvdW","x":11.5,"y":0.15},{"m":"Propane","z":"z = 0Å","s":"HDGBvdW","x":14.0,"y":0.12},{"m":"Propane","z":"z = 0Å","s":"HDGBvdW","x":15.0,"y":0.11},
{"m":"Propane","z":"z = 0Å","s":"band","x":4.75,"lo":0.05,"hi":0.25},{"m":"Propane","z":"z = 0Å","s":"band","x":5.0,"lo":-0.12,"hi":0.12},{"m":"Propane","z":"z = 0Å","s":"band","x":5.25,"lo":-0.17,"hi":0.08},{"m":"Propane","z":"z = 0Å","s":"band","x":5.5,"lo":-0.12,"hi":0.12},{"m":"Propane","z":"z = 0Å","s":"band","x":6.0,"lo":0.1,"hi":0.3},{"m":"Propane","z":"z = 0Å","s":"band","x":6.5,"lo":0.35,"hi":0.6},{"m":"Propane","z":"z = 0Å","s":"band","x":7.0,"lo":0.55,"hi":0.78},{"m":"Propane","z":"z = 0Å","s":"band","x":7.5,"lo":0.6,"hi":0.82},{"m":"Propane","z":"z = 0Å","s":"band","x":8.0,"lo":0.52,"hi":0.74},{"m":"Propane","z":"z = 0Å","s":"band","x":8.5,"lo":0.38,"hi":0.55},{"m":"Propane","z":"z = 0Å","s":"band","x":9.0,"lo":0.28,"hi":0.4},

{"m":"Propane","z":"z = 12Å","s":"Explicit","x":3.0,"y":9.0},{"m":"Propane","z":"z = 12Å","s":"Explicit","x":3.4,"y":4.96},{"m":"Propane","z":"z = 12Å","s":"Explicit","x":3.6,"y":3.56},{"m":"Propane","z":"z = 12Å","s":"Explicit","x":3.87,"y":2.07},{"m":"Propane","z":"z = 12Å","s":"Explicit","x":4.13,"y":1.04},{"m":"Propane","z":"z = 12Å","s":"Explicit","x":4.38,"y":0.44},{"m":"Propane","z":"z = 12Å","s":"Explicit","x":4.64,"y":0.15},{"m":"Propane","z":"z = 12Å","s":"Explicit","x":4.9,"y":-0.02},{"m":"Propane","z":"z = 12Å","s":"Explicit","x":5.15,"y":0.0},{"m":"Propane","z":"z = 12Å","s":"Explicit","x":5.4,"y":0.07},{"m":"Propane","z":"z = 12Å","s":"Explicit","x":5.92,"y":0.44},{"m":"Propane","z":"z = 12Å","s":"Explicit","x":6.44,"y":0.77},{"m":"Propane","z":"z = 12Å","s":"Explicit","x":6.95,"y":0.96},{"m":"Propane","z":"z = 12Å","s":"Explicit","x":7.46,"y":1.07},{"m":"Propane","z":"z = 12Å","s":"Explicit","x":7.97,"y":1.0},{"m":"Propane","z":"z = 12Å","s":"Explicit","x":8.5,"y":0.77},{"m":"Propane","z":"z = 12Å","s":"Explicit","x":9.0,"y":0.59},{"m":"Propane","z":"z = 12Å","s":"Explicit","x":9.5,"y":0.56},{"m":"Propane","z":"z = 12Å","s":"Explicit","x":10.03,"y":0.52},{"m":"Propane","z":"z = 12Å","s":"Explicit","x":10.54,"y":0.59},{"m":"Propane","z":"z = 12Å","s":"Explicit","x":11.05,"y":0.64},{"m":"Propane","z":"z = 12Å","s":"Explicit","x":11.56,"y":0.71},{"m":"Propane","z":"z = 12Å","s":"Explicit","x":12.08,"y":0.89},{"m":"Propane","z":"z = 12Å","s":"Explicit","x":12.46,"y":0.96},{"m":"Propane","z":"z = 12Å","s":"Explicit","x":12.85,"y":0.89},{"m":"Propane","z":"z = 12Å","s":"Explicit","x":13.36,"y":0.67},{"m":"Propane","z":"z = 12Å","s":"Explicit","x":14.1,"y":0.59},{"m":"Propane","z":"z = 12Å","s":"Explicit","x":14.6,"y":0.59},{"m":"Propane","z":"z = 12Å","s":"Explicit","x":15.0,"y":0.67},
{"m":"Propane","z":"z = 12Å","s":"HDGBv3","x":3.0,"y":9.0},{"m":"Propane","z":"z = 12Å","s":"HDGBv3","x":3.4,"y":4.96},{"m":"Propane","z":"z = 12Å","s":"HDGBv3","x":3.6,"y":3.56},{"m":"Propane","z":"z = 12Å","s":"HDGBv3","x":3.87,"y":2.07},{"m":"Propane","z":"z = 12Å","s":"HDGBv3","x":4.13,"y":1.04},{"m":"Propane","z":"z = 12Å","s":"HDGBv3","x":4.38,"y":0.44},{"m":"Propane","z":"z = 12Å","s":"HDGBv3","x":4.64,"y":0.15},{"m":"Propane","z":"z = 12Å","s":"HDGBv3","x":4.9,"y":0.0},{"m":"Propane","z":"z = 12Å","s":"HDGBv3","x":5.4,"y":0.02},{"m":"Propane","z":"z = 12Å","s":"HDGBv3","x":5.92,"y":0.07},{"m":"Propane","z":"z = 12Å","s":"HDGBv3","x":6.95,"y":0.3},{"m":"Propane","z":"z = 12Å","s":"HDGBv3","x":7.97,"y":0.44},{"m":"Propane","z":"z = 12Å","s":"HDGBv3","x":9.0,"y":0.52},{"m":"Propane","z":"z = 12Å","s":"HDGBv3","x":10.0,"y":0.56},{"m":"Propane","z":"z = 12Å","s":"HDGBv3","x":12.1,"y":0.56},{"m":"Propane","z":"z = 12Å","s":"HDGBv3","x":15.0,"y":0.56},
{"m":"Propane","z":"z = 12Å","s":"HDGBvdW","x":3.0,"y":9.0},{"m":"Propane","z":"z = 12Å","s":"HDGBvdW","x":3.4,"y":4.96},{"m":"Propane","z":"z = 12Å","s":"HDGBvdW","x":3.6,"y":3.56},{"m":"Propane","z":"z = 12Å","s":"HDGBvdW","x":3.87,"y":2.07},{"m":"Propane","z":"z = 12Å","s":"HDGBvdW","x":4.13,"y":1.04},{"m":"Propane","z":"z = 12Å","s":"HDGBvdW","x":4.38,"y":0.44},{"m":"Propane","z":"z = 12Å","s":"HDGBvdW","x":4.64,"y":0.15},{"m":"Propane","z":"z = 12Å","s":"HDGBvdW","x":4.9,"y":0.0},{"m":"Propane","z":"z = 12Å","s":"HDGBvdW","x":5.4,"y":0.0},{"m":"Propane","z":"z = 12Å","s":"HDGBvdW","x":5.92,"y":0.03},{"m":"Propane","z":"z = 12Å","s":"HDGBvdW","x":6.95,"y":0.18},{"m":"Propane","z":"z = 12Å","s":"HDGBvdW","x":7.97,"y":0.37},{"m":"Propane","z":"z = 12Å","s":"HDGBvdW","x":9.0,"y":0.47},{"m":"Propane","z":"z = 12Å","s":"HDGBvdW","x":10.0,"y":0.47},{"m":"Propane","z":"z = 12Å","s":"HDGBvdW","x":12.0,"y":0.44},{"m":"Propane","z":"z = 12Å","s":"HDGBvdW","x":13.5,"y":0.4},{"m":"Propane","z":"z = 12Å","s":"HDGBvdW","x":15.0,"y":0.41},
{"m":"Propane","z":"z = 12Å","s":"band","x":4.64,"lo":0.05,"hi":0.22},{"m":"Propane","z":"z = 12Å","s":"band","x":4.9,"lo":-0.1,"hi":0.08},{"m":"Propane","z":"z = 12Å","s":"band","x":5.4,"lo":0.02,"hi":0.1},{"m":"Propane","z":"z = 12Å","s":"band","x":6.0,"lo":0.5,"hi":0.5},{"m":"Propane","z":"z = 12Å","s":"band","x":7.0,"lo":0.98,"hi":0.98},{"m":"Propane","z":"z = 12Å","s":"band","x":8.0,"lo":0.99,"hi":0.99},{"m":"Propane","z":"z = 12Å","s":"band","x":9.0,"lo":0.52,"hi":0.66},{"m":"Propane","z":"z = 12Å","s":"band","x":9.5,"lo":0.46,"hi":0.66},{"m":"Propane","z":"z = 12Å","s":"band","x":10.0,"lo":0.42,"hi":0.62},{"m":"Propane","z":"z = 12Å","s":"band","x":10.5,"lo":0.49,"hi":0.69},{"m":"Propane","z":"z = 12Å","s":"band","x":11.0,"lo":0.54,"hi":0.74},{"m":"Propane","z":"z = 12Å","s":"band","x":11.5,"lo":0.6,"hi":0.8},{"m":"Propane","z":"z = 12Å","s":"band","x":12.0,"lo":0.78,"hi":1.0},{"m":"Propane","z":"z = 12Å","s":"band","x":12.5,"lo":0.85,"hi":1.07},{"m":"Propane","z":"z = 12Å","s":"band","x":13.0,"lo":0.77,"hi":0.97},{"m":"Propane","z":"z = 12Å","s":"band","x":13.5,"lo":0.57,"hi":0.77}
]
},
"data": {"name": "pts"},
"facet": {
  "row": {"field": "m", "type": "nominal", "sort": ["Acetamide", "Methanol", "Toluene", "Propane"], "title": "Free Energy [kcal/mol]",
    "header": {"titleOrient": "left", "titleFont": "Liberation Serif", "titleFontSize": 21, "titleFontStyle": "italic", "titleFontWeight": "normal", "titleColor": "#000", "titlePadding": 2,
      "labelOrient": "right", "labelAngle": 90, "labelFont": "Liberation Serif", "labelFontSize": 18, "labelColor": "#000", "labelPadding": 5}},
  "column": {"field": "z", "type": "nominal", "sort": ["z = 0Å", "z = 12Å"], "title": "Pair Distance [Å]",
    "header": {"titleOrient": "bottom", "titleFont": "Liberation Serif", "titleFontSize": 21, "titleFontStyle": "italic", "titleFontWeight": "normal", "titleColor": "#000", "titlePadding": 2,
      "labelOrient": "top", "labelFont": "Liberation Serif", "labelFontSize": 19, "labelColor": "#000", "labelPadding": 8}}
},
"spacing": {"row": 14, "column": 12},
"spec": {
  "width": 154,
  "height": 132,
  "layer": [
    {
      "transform": [{"filter": "datum.s === 'band'"}],
      "mark": {"type": "area", "color": "#b3b3b3", "opacity": 1, "clip": true, "interpolate": "monotone"},
      "encoding": {
        "x": {"field": "x", "type": "quantitative", "scale": {"domain": [3, 15], "nice": false, "zero": false},
          "axis": {"values": [4, 6, 8, 10, 12, 14], "title": null, "labelOverlap": false, "labelFont": "Liberation Serif", "labelFontSize": 16, "labelColor": "#000", "tickSize": -4, "labelPadding": 8, "tickColor": "#808080", "domain": false, "grid": false}},
        "y": {"field": "lo", "type": "quantitative", "scale": {"domain": [-1, 4.95], "nice": false, "zero": false},
          "axis": {"values": [0, 1, 2, 3, 4], "title": null, "labelOverlap": false, "labelFont": "Liberation Serif", "labelFontSize": 16, "labelColor": "#000", "tickSize": -4, "labelPadding": 8, "tickColor": "#808080", "domain": false, "grid": false}},
        "y2": {"field": "hi"}
      }
    },
    {
      "transform": [{"filter": "datum.s !== 'band'"}],
      "mark": {"type": "line", "clip": true, "interpolate": "monotone"},
      "encoding": {
        "x": {"field": "x", "type": "quantitative",
          "axis": {"values": [4, 6, 8, 10, 12, 14], "title": null, "labelOverlap": false, "labelFont": "Liberation Serif", "labelFontSize": 16, "labelColor": "#000", "tickSize": -4, "labelPadding": 8, "tickColor": "#808080", "domain": false, "grid": false}},
        "y": {"field": "y", "type": "quantitative",
          "axis": {"values": [0, 1, 2, 3, 4], "title": null, "labelOverlap": false, "labelFont": "Liberation Serif", "labelFontSize": 16, "labelColor": "#000", "tickSize": -4, "labelPadding": 8, "tickColor": "#808080", "domain": false, "grid": false}},
        "color": {"field": "s", "type": "nominal", "title": null,
          "scale": {"domain": ["Explicit", "HDGBv3", "HDGBvdW"], "range": ["#000000", "#1b8a1b", "#e3221c"]},
          "legend": {"orient": "none", "legendX": 195, "legendY": 453, "symbolType": "stroke", "symbolSize": 500, "symbolStrokeWidth": 2.5, "labelFont": "Liberation Serif", "labelFontSize": 18, "labelColor": "#000", "labelOffset": 4, "rowPadding": 1, "padding": 0}},
        "strokeDash": {"field": "s", "type": "nominal", "title": null,
          "scale": {"domain": ["Explicit", "HDGBv3", "HDGBvdW"], "range": [[1, 0], [2.5, 2], [7, 4]]}},
        "strokeWidth": {"field": "s", "type": "nominal", "legend": null,
          "scale": {"domain": ["Explicit", "HDGBv3", "HDGBvdW"], "range": [1.6, 2.5, 2.6]}}
      }
    }
  ]
},
"config": {
  "font": "Liberation Serif",
  "view": {"stroke": "#808080", "strokeWidth": 1.2},
  "axis": {"grid": false, "domain": false, "tickColor": "#808080", "tickSize": -4, "labelPadding": 8, "labelFont": "Liberation Serif", "labelFontSize": 16, "labelColor": "#000"}
}
}
